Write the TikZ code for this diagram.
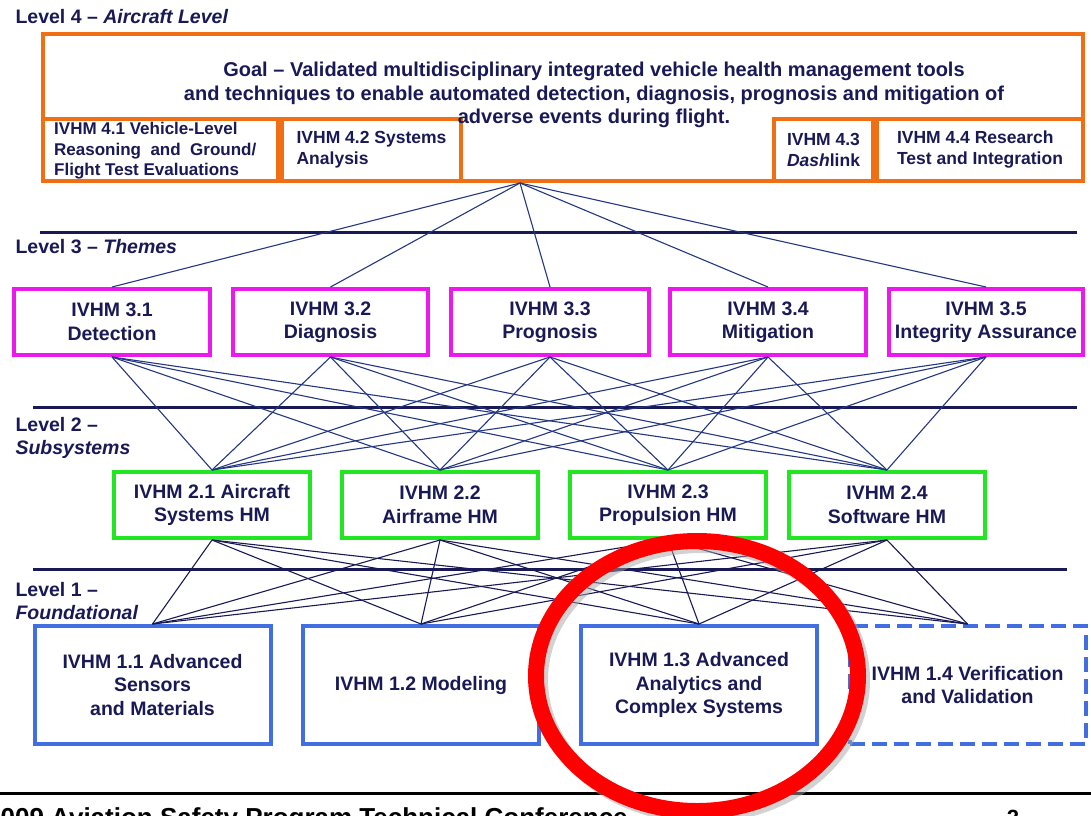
\documentclass[tikz,border=0pt]{standalone}
\usepackage{fontspec}
\setmainfont{Liberation Sans}
\definecolor{navy}{RGB}{25,25,85}
\definecolor{linkblue}{RGB}{35,55,130}
\definecolor{ivhmorange}{RGB}{240,110,20}
\definecolor{ivhmmagenta}{RGB}{235,25,235}
\definecolor{ivhmgreen}{RGB}{35,230,35}
\definecolor{ivhmblue}{RGB}{65,110,225}
\begin{document}
\begin{tikzpicture}[x = 1pt, y = -1pt,
    txt/.style = {text = navy, font = \bfseries\fontsize{19.5}{23.5}\selectfont, align = center},
    smalltxt/.style = {text = navy, font = \bfseries\fontsize{17.5}{21}\selectfont, align = left},
    box/.style = {draw, line width = 4pt, fill = white, inner sep = 0pt},
    aircraft/.style = {box, draw = ivhmorange, smalltxt, minimum height = 62pt},
    theme/.style = {box, draw = ivhmmagenta, txt, minimum height = 66pt},
    subsys/.style = {box, draw = ivhmgreen, txt, minimum width = 196pt, minimum height = 66pt},
    found/.style = {box, draw = ivhmblue, txt, minimum width = 236pt, minimum height = 118pt},
    levelline/.style = {navy, line width = 3pt},
    link/.style = {linkblue, line width = 1.1pt}]
  \useasboundingbox (0, 0) rectangle (1091, 815);
  \clip (0, 0) rectangle (1091, 815);

  % level separators
  \draw[levelline] (40, 232)--(1077, 232);
  \draw[levelline] (33, 407)--(1077, 407);
  \draw[levelline] (33, 569)--(1067, 569);
  \draw[black, line width = 3pt] (0, 793)--(1091, 793);

  % level labels
  \node[txt, anchor = west, align = left] (lvl4) at (12, 17) {Level 4 -- \textit{Aircraft Level}};
  \node[txt, anchor = west, align = left] (lvl3) at (12, 247) {Level 3 -- \textit{Themes}};
  \node[txt, anchor = west, align = left] (lvl2) at (12, 438) {Level 2 --\\\textit{Subsystems}};
  \node[txt, anchor = west, align = left] (lvl1) at (12, 601) {Level 1 --\\\textit{Foundational}};

  % level 4
  \node[box, draw = ivhmorange, minimum width = 1040pt, minimum height = 147pt] (goal) at (563, 107.5) {};
  \node[aircraft, minimum width = 235pt] (a1) at (160.5, 150) {};
  \node[smalltxt, font = \bfseries\fontsize{17}{20.5}\selectfont, anchor = west, inner sep = 0pt] (a1text) at (54, 151) {IVHM 4.1 Vehicle-Level\\Reasoning \ and \ Ground/\\Flight Test Evaluations};
  \node[aircraft, minimum width = 179pt] (a2) at (371.5, 150) {IVHM 4.2 Systems\\Analysis\phantom{ Systems}};
  \node[aircraft, minimum width = 99pt] (a3) at (823.5, 150) {IVHM 4.3\\\textit{Dash}link};
  \node[aircraft, minimum width = 206pt] (a4) at (980, 150) {IVHM 4.4 Research\\Test and Integration};
  \node[txt, font = \bfseries\fontsize{20}{23.5}\selectfont] (goaltext) at (594, 95) {Goal -- Validated multidisciplinary integrated vehicle health management tools\\and techniques to enable automated detection, diagnosis, prognosis and mitigation of\\adverse events during flight.};
  \coordinate (hub) at (520, 183);

  % level 3
  \node[theme, minimum width = 196pt] (t1) at (112, 322) {IVHM 3.1\\Detection};
  \node[theme, minimum width = 195pt] (t2) at (330.5, 322) {IVHM 3.2\\Diagnosis};
  \node[theme, minimum width = 198pt] (t3) at (550, 322) {IVHM 3.3\\Prognosis};
  \node[theme, minimum width = 196pt] (t4) at (768, 322) {IVHM 3.4\\Mitigation};
  \node[theme, minimum width = 194pt] (t5) at (986, 322) {IVHM 3.5\\Integrity Assurance};

  % level 2
  \node[subsys] (s1) at (212, 505) {IVHM 2.1 Aircraft\\Systems HM};
  \node[subsys] (s2) at (440, 505) {IVHM 2.2\\Airframe HM};
  \node[subsys] (s3) at (668, 505) {IVHM 2.3\\Propulsion HM};
  \node[subsys] (s4) at (887, 505) {IVHM 2.4\\Software HM};

  % level 1
  \node[found] (f1) at (152.5, 685) {IVHM 1.1 Advanced\\Sensors\\and Materials};
  \node[found] (f2) at (421, 685) {IVHM 1.2 Modeling};
  \node[found] (f3) at (699, 685) {IVHM 1.3 Advanced\\Analytics and\\Complex Systems};
  \node[found, dash pattern = on 15pt off 7pt] (f4) at (967.5, 685) {IVHM 1.4 Verification\\and Validation};

  % links
  \foreach \t in {1, ..., 5}
    \draw[link] (hub)--(t\t.north);
  \foreach \t in {1, ..., 5}
    \foreach \s in {1, ..., 4}
      \draw[link] (t\t.south)--(s\s.north);
  \foreach \s in {1, ..., 4}
    \foreach \f in {1, ..., 4}
      \draw[link, navy] (s\s.south)--(f\f.north);

  % highlight
  \draw[black!35, line width = 16pt, opacity = .5] (701, 680) ellipse [x radius = 161, y radius = 135];
  \draw[red, line width = 16pt] (697, 676) ellipse [x radius = 161, y radius = 135];

  % footer
  \node[anchor = north west, inner sep = 0pt, font = \bfseries\fontsize{26}{30}\selectfont] (conf) at (-14, 807) {2009 Aviation Safety Program Technical Conference};
  \node[anchor = north, inner sep = 0pt, font = \bfseries\fontsize{22}{26}\selectfont] (pagenum) at (1013, 810) {2};
\end{tikzpicture}
\end{document}
